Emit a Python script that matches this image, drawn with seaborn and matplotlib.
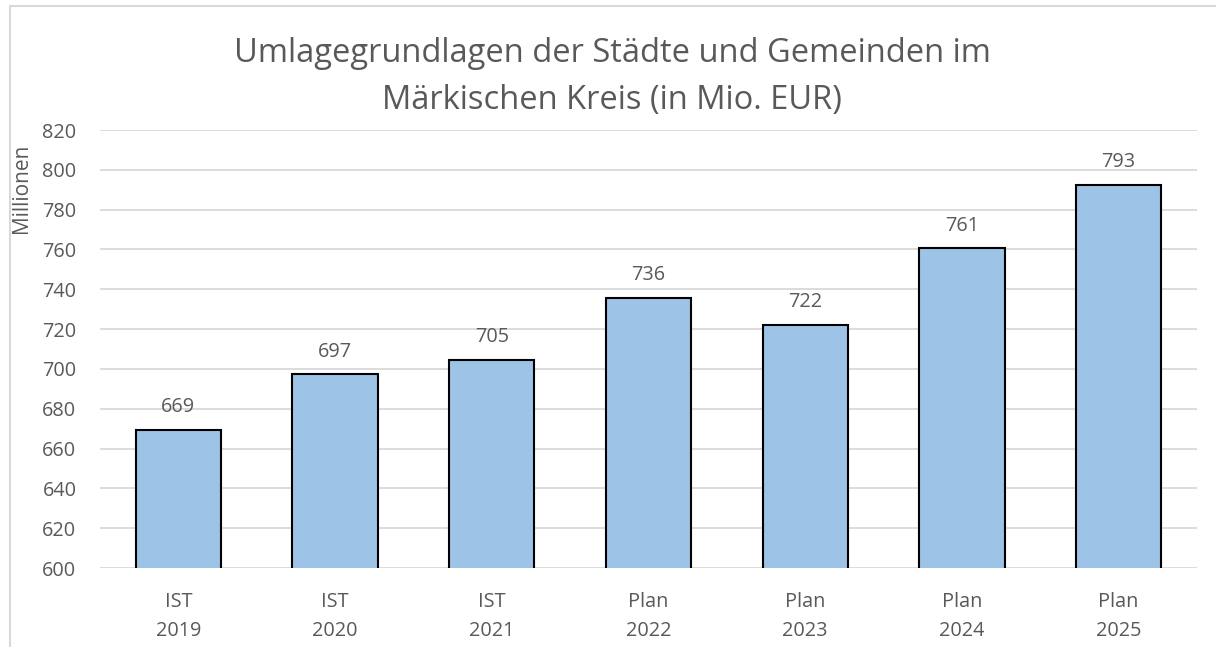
import matplotlib
matplotlib.use("Agg")
import matplotlib.pyplot as plt
import seaborn as sns
import pandas as pd
from matplotlib.patches import Rectangle

categories = ["IST\n2019", "IST\n2020", "IST\n2021", "Plan\n2022", "Plan\n2023", "Plan\n2024", "Plan\n2025"]
values = [669.4, 697.2, 704.6, 735.8, 722.3, 760.6, 792.6]
labels = ["669", "697", "705", "736", "722", "761", "793"]
yticks = list(range(600, 821, 20))

sns.set_theme(style="white")
plt.rcParams['font.family'] = ['Open Sans', 'DejaVu Sans']
TXT = "#595959"
FS = 14.3

df = pd.DataFrame({"cat": categories, "val": values})
fig = plt.figure(figsize=(12.16, 6.47), dpi=100)
ax = fig.add_axes([100/1216, 1-568/647, 1097/1216, (568-130)/647])

sns.barplot(data=df, x="cat", y="val", color="#9DC3E6", edgecolor="black",
            linewidth=1.5, width=0.545, saturation=1, ax=ax, zorder=3)

ax.set_ylim(600, 820)
ax.set_yticks(yticks)
ax.set_xlim(-0.5, len(categories) - 0.5)
ax.grid(axis="y", color="#D9D9D9", linewidth=1.3, zorder=0)
ax.grid(axis="x", visible=False)
for s in ax.spines.values():
    s.set_visible(False)
ax.tick_params(axis="both", length=0, labelsize=FS, labelcolor=TXT)
ax.tick_params(axis="x", pad=17)
ax.tick_params(axis="y", pad=17)
for t in ax.get_xticklabels():
    t.set_linespacing(1.6)
ax.set_xlabel("")
ax.set_ylabel("")

for i, (v, lab) in enumerate(zip(values, labels)):
    ax.annotate(lab, (i, v), xytext=(0, 9), textcoords="offset points",
                ha="center", va="bottom", fontsize=FS, color=TXT)

fig.text(22/1216, 1-188/647, "Millionen", rotation=90, ha="center", va="center",
         fontsize=15, color=TXT)
fig.text(612/1216, 1-77/647, "Umlagegrundlagen der Städte und Gemeinden im\nMärkischen Kreis (in Mio. EUR)",
         ha="center", va="center", fontsize=23.5, color=TXT, linespacing=1.55)

fig.patches.append(Rectangle((10/1216, -0.1), 1.2, 1 - 6/647 + 0.1, transform=fig.transFigure,
                             fill=False, edgecolor="#D9D9D9", linewidth=1.5))

fig.savefig("out.png", dpi=100)
